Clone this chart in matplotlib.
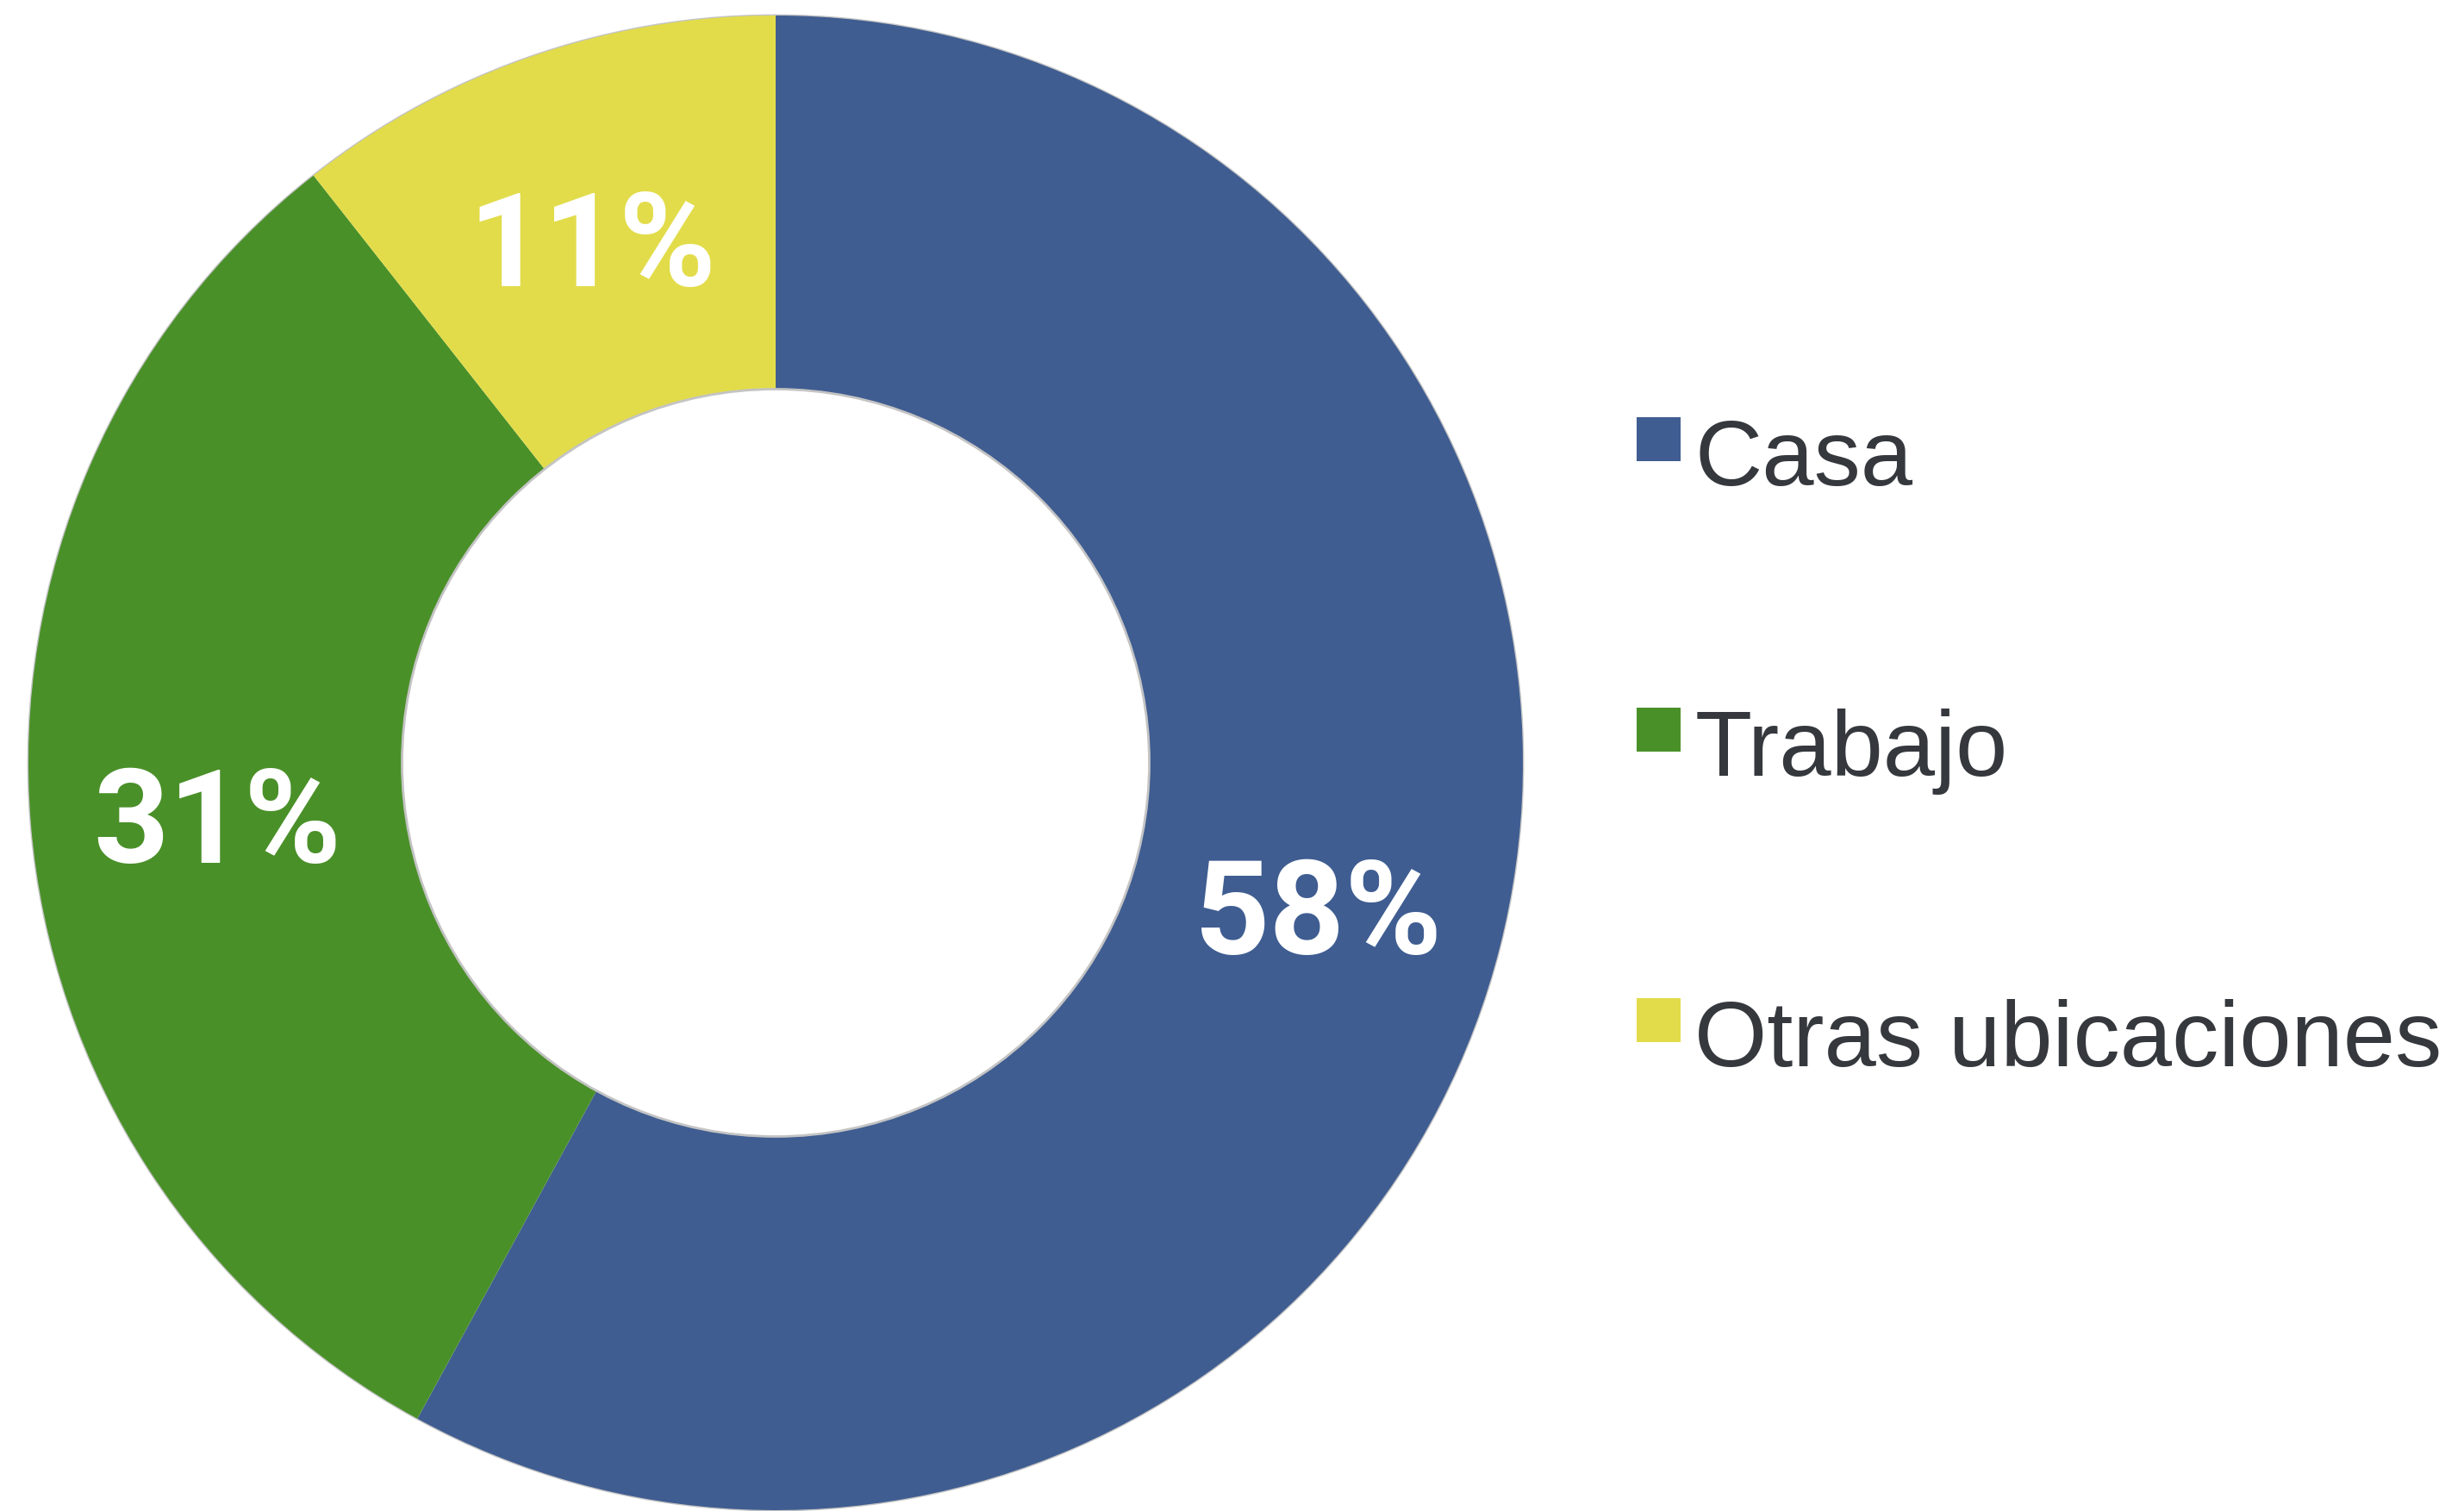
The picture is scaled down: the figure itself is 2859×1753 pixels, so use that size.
import matplotlib
matplotlib.use("Agg")
import matplotlib.pyplot as plt
from matplotlib.patches import Circle, Rectangle
from matplotlib.font_manager import FontProperties
from matplotlib.legend_handler import HandlerPatch
from matplotlib.transforms import ScaledTranslation

categories = ["Casa", "Trabajo", "Otras ubicaciones"]
values = [57.9, 31.4, 10.6]
colors = ["#3F5D91", "#4A9029", "#E2DC4A"]

W, H = 2859, 1753
fig = plt.figure(figsize=(W / 100, H / 100), dpi=100)
fig.patch.set_facecolor("white")

cx, cy, R = 900, 868, 867
ax = fig.add_axes([(cx - R) / W, (cy - R) / H, 2 * R / W, 2 * R / H])

bold = FontProperties(family="Roboto", weight="bold", size=110)
reg = FontProperties(family="Liberation Sans", weight="normal", size=78)

wedges, texts, autotexts = ax.pie(
    values, colors=colors, startangle=90, counterclock=False, radius=1,
    wedgeprops=dict(width=0.5, edgecolor="none", linewidth=0),
    autopct=lambda p: f"{p:.0f}%", pctdistance=0.75,
)
for w in wedges:
    w.set_clip_on(False)
shift = ScaledTranslation(0, -20 / 100, fig.dpi_scale_trans)
for t in autotexts:
    t.set_fontproperties(bold)
    t.set_color("white")
    t.set_transform(ax.transData + shift)

# subtle edge shading
for r, z in [(1.0, 0.5), (0.5, 3)]:
    c = Circle((0, 0), r, fill=False, edgecolor="#c4c4c4", lw=2, zorder=z)
    c.set_clip_on(False)
    ax.add_patch(c)
ax.set_xlim(-1, 1)
ax.set_ylim(-1, 1)
ax.set_aspect("equal")
ax.axis("off")


def square(legend, orig_handle, xdescent, ydescent, width, height, fontsize):
    return Rectangle((-xdescent, -ydescent + 0.18 * fontsize), width, width)


fig.legend(
    wedges, categories, loc="center left",
    bbox_to_anchor=(1899 / W, 1 - 872 / H), bbox_transform=fig.transFigure,
    frameon=False, handlelength=0.47, handleheight=0.47,
    handletextpad=0.15, labelspacing=2.19, borderpad=0, borderaxespad=0,
    labelcolor="#35383d", prop=reg,
    handler_map={w: HandlerPatch(patch_func=square) for w in wedges},
)

fig.savefig("out.png", dpi=100, facecolor="white")
